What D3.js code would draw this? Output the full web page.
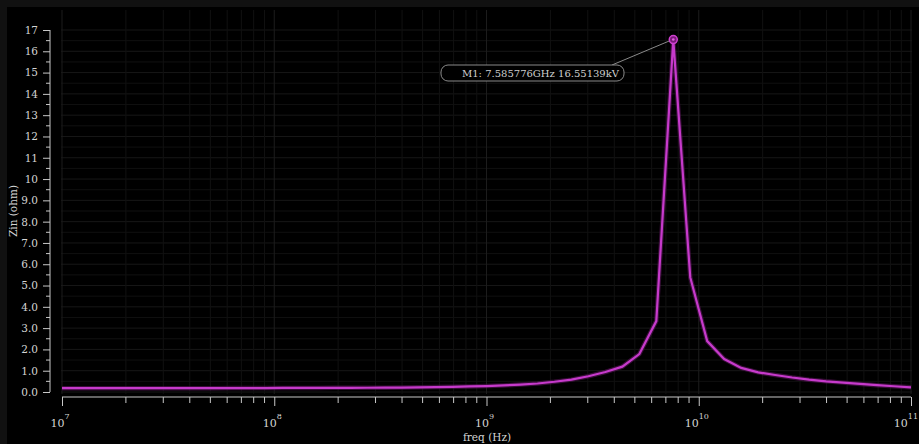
<!DOCTYPE html>
<html>
<head>
<meta charset="utf-8">
<script src="https://cdn.jsdelivr.net/npm/d3@7"></script>
<style>
  html, body { margin: 0; padding: 0; background: #111; }
  svg { display: block; }
  text { font-family: "DejaVu Serif", serif; }
</style>
</head>
<body>
<svg id="chart" width="919" height="444"></svg>
<script>
// sweep points (Hz), 0.08 decade apart
const FREQS = [
  1.000e7, 1.202e7, 1.445e7, 1.738e7, 2.089e7, 2.512e7, 3.020e7, 3.631e7, 4.365e7, 5.248e7,
  6.310e7, 7.586e7, 9.120e7, 1.096e8, 1.318e8, 1.585e8, 1.905e8, 2.291e8, 2.754e8, 3.311e8,
  3.981e8, 4.786e8, 5.754e8, 6.918e8, 8.318e8, 1.000e9, 1.202e9, 1.445e9, 1.738e9, 2.089e9,
  2.512e9, 3.020e9, 3.631e9, 4.365e9, 5.248e9, 6.310e9, 7.585776e9, 9.120e9, 1.096e10, 1.318e10,
  1.585e10, 1.905e10, 2.291e10, 2.754e10, 3.311e10, 3.981e10, 4.786e10, 5.754e10, 6.918e10, 8.318e10,
  1.000e11
]
// Zin
const ZIN = [
  0.18, 0.18, 0.18, 0.18, 0.18, 0.18, 0.18, 0.18, 0.18, 0.18,
  0.185, 0.185, 0.185, 0.19, 0.19, 0.19, 0.195, 0.195, 0.20, 0.205,
  0.21, 0.22, 0.23, 0.245, 0.26, 0.28, 0.31, 0.35, 0.40, 0.48,
  0.58, 0.74, 0.94, 1.19, 1.78, 3.33, 16.55139, 5.38, 2.39, 1.55,
  1.13, 0.92, 0.80, 0.68, 0.58, 0.50, 0.44, 0.38, 0.32, 0.27,
  0.22
]
const Y_TICKS = [0,1,2,3,4,5,6,7,8,9,10,11,12,13,14,15,16,17]
const X_DECADES = [1e7, 1e8, 1e9, 1e10, 1e11]
const MARKER = { name: 'M1', freq: 7.585776e9, value: 16.55139, label: 'M1: 7.585776GHz 16.55139kV' }

const W = 919, H = 444
const svg = d3.select('#chart')

// black plot window (thin dark frame top/left like the original capture)
svg.append('rect').attr('x', 7).attr('y', 7).attr('width', W - 7).attr('height', H - 7).attr('fill', '#000')

const x = d3.scaleLog().domain([1e7, 1e11]).range([62, 911])
const y = d3.scaleLinear().domain([0, 17]).range([392, 30])

// minor x positions (2..9 in each decade)
const xMinor = []
for (let d = 0; d < X_DECADES.length - 1; d++) {
  for (let m = 2; m <= 9; m++) xMinor.push(X_DECADES[d] * m)
}
const yMinor = Y_TICKS.slice(0, -1).map(v => v + 0.5)

// grid
const grid = svg.append('g').attr('class', 'grid')
grid.selectAll('line.gy').data(Y_TICKS.concat(yMinor)).enter().append('line')
  .attr('x1', 61).attr('x2', 912)
  .attr('y1', d => y(d)).attr('y2', d => y(d))
  .attr('stroke', d => Number.isInteger(d) ? '#171717' : '#101010')
grid.selectAll('line.gx').data(X_DECADES.concat(xMinor)).enter().append('line')
  .attr('y1', 10).attr('y2', 394)
  .attr('x1', d => x(d)).attr('x2', d => x(d))
  .attr('stroke', d => X_DECADES.includes(d) ? '#1c1c1c' : '#111111')

// y axis
const yAxis = svg.append('g').attr('transform', 'translate(50,0)')
  .call(d3.axisLeft(y).tickValues(Y_TICKS).tickSize(7).tickPadding(5)
    .tickFormat(d => d < 10 ? d.toFixed(1) : String(d)))
yAxis.selectAll('line.m').data(yMinor).enter().append('line')
  .attr('x1', 0).attr('x2', -4).attr('y1', d => y(d)).attr('y2', d => y(d))
yAxis.select('.domain').attr('d', 'M0,' + y(0) + 'V' + y(17))
yAxis.selectAll('path, line').attr('stroke', '#c8c8c8')
yAxis.selectAll('text').attr('fill', '#d4d4d4').attr('font-size', 10.5)
  .attr('font-family', '"DejaVu Serif", serif')

// x axis
const xAxis = svg.append('g').attr('transform', 'translate(0,397)')
  .call(d3.axisBottom(x).tickValues(X_DECADES).tickSize(9).tickFormat(''))
xAxis.selectAll('line.m').data(xMinor).enter().append('line')
  .attr('x1', d => x(d)).attr('x2', d => x(d)).attr('y1', 0).attr('y2', 6)
xAxis.select('.domain').attr('d', 'M' + x(1e7) + ',0H' + x(1e11))
xAxis.selectAll('path, line').attr('stroke', '#c8c8c8')

// decade labels; the last one is pulled in so it stays inside the window
const lastDecade = X_DECADES[X_DECADES.length - 1]
const xl = svg.append('g').selectAll('text').data(X_DECADES).enter().append('text')
  .attr('x', d => d === lastDecade ? W - 1 : x(d) - 2).attr('y', 427)
  .attr('text-anchor', d => d === lastDecade ? 'end' : 'middle')
  .attr('fill', '#d4d4d4').attr('font-size', 11)
xl.append('tspan').text('10')
xl.append('tspan').attr('dy', -8).attr('font-size', 8).text(d => Math.round(Math.log10(d)))

// axis titles
svg.append('text').attr('x', 487).attr('y', 441).attr('text-anchor', 'middle')
  .attr('fill', '#d4d4d4').attr('font-size', 10.5).text('freq (Hz)')
svg.append('text').attr('transform', 'translate(17,211) rotate(-90)').attr('text-anchor', 'middle')
  .attr('fill', '#d4d4d4').attr('font-size', 10.5).text('Zin (ohm)')

// curve
const pts = FREQS.map((f, i) => [f, ZIN[i]])
const line = d3.line().x(d => x(d[0])).y(d => y(d[1]))
svg.append('path').datum(pts).attr('d', line)
  .attr('fill', 'none').attr('stroke', '#5e165e').attr('stroke-width', 4.5).attr('opacity', 0.6)
svg.append('path').datum(pts).attr('d', line)
  .attr('fill', 'none').attr('stroke', '#c63acb').attr('stroke-width', 2.2)

// marker
const mx = x(MARKER.freq), my = y(MARKER.value)
svg.append('line').attr('x1', 612).attr('y1', 65).attr('x2', mx - 3).attr('y2', my + 1)
  .attr('stroke', '#8a8a8a').attr('stroke-width', 1)
svg.append('rect').attr('x', 441).attr('y', 65).attr('width', 183).attr('height', 16).attr('rx', 7)
  .attr('fill', '#000').attr('stroke', '#8a8a8a').attr('stroke-width', 1)
svg.append('text').attr('x', 462).attr('y', 77).attr('fill', '#cfcfcf').attr('font-size', 10)
  .text(MARKER.label)
svg.append('circle').attr('cx', mx).attr('cy', my).attr('r', 4)
  .attr('fill', '#7a1a7a').attr('stroke', '#d040d0').attr('stroke-width', 1.5)
svg.append('circle').attr('cx', mx).attr('cy', my).attr('r', 1.3).attr('fill', '#e060e0')
</script>
</body>
</html>
